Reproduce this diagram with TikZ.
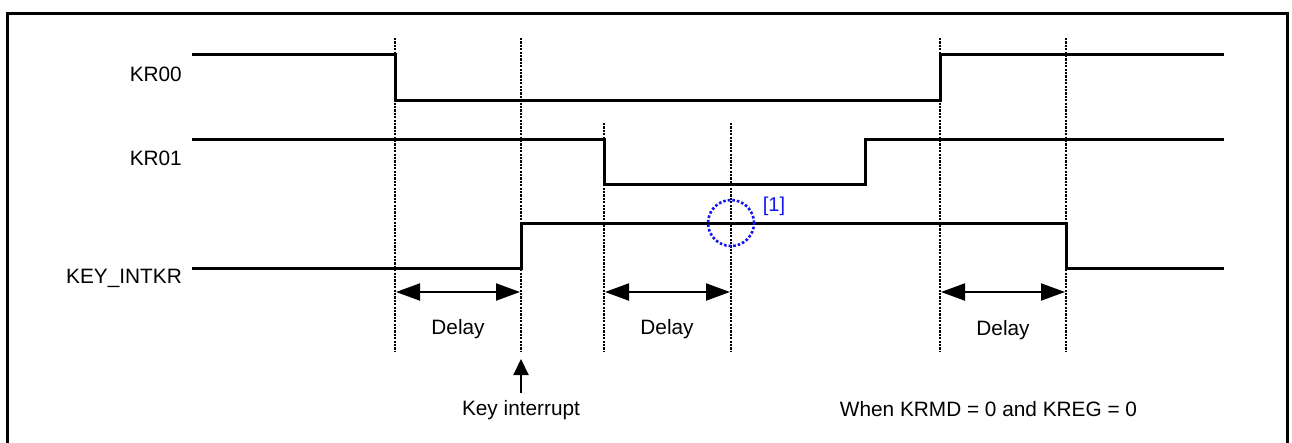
\documentclass[tikz,border=0pt]{standalone}
\usepackage{fontspec}
\setmainfont{Liberation Sans}
\usetikzlibrary{arrows.meta}
\definecolor{markblue}{RGB}{20,20,240}
\begin{document}
\begin{tikzpicture}[x=1pt,y=-1pt,
  lbl/.style={inner sep=0pt,font=\fontsize{20.8}{24}\selectfont},
  wave/.style={line width=3pt,line join=miter},
  guide/.style={line width=2.3pt,dash pattern=on 2.1pt off 1.3pt},
  span/.style={line width=2pt,{Triangle[length=24pt,width=17pt]}-{Triangle[length=24pt,width=17pt]},shorten <=1pt,shorten >=1pt},
  pointer/.style={line width=2pt,-{Triangle[length=16pt,width=15pt]}}]
\useasboundingbox (0,0) rectangle (1292,442);
\clip (0,0) rectangle (1292,442);
% frame
\draw[line width=3pt] (7.5,13.5) rectangle (1287,460);
% guide coordinates
\coordinate (g1t) at (395,38);  \coordinate (g1b) at (395,351);
\coordinate (g2t) at (521,38);  \coordinate (g2b) at (521,351);
\coordinate (g3t) at (604,123); \coordinate (g3b) at (604,352);
\coordinate (g4t) at (731,123); \coordinate (g4b) at (731,352);
\coordinate (g5t) at (940,38);  \coordinate (g5b) at (940,351);
\coordinate (g6t) at (1066,38); \coordinate (g6b) at (1066,351);
\foreach \i in {1,...,6} {\draw[guide] (g\i t) -- (g\i b);}
% waveforms
\draw[wave] (192,54) -- (395,54) -- (395,100) -- (940,100) -- (940,54) -- (1224,54);
\draw[wave] (192,139) -- (604,139) -- (604,184) -- (865,184) -- (865,139) -- (1224,139);
\draw[wave] (192,268) -- (521,268) -- (521,223) -- (1066,223) -- (1066,268) -- (1224,268);
% signal labels
\node[lbl,anchor=base east] (kr00) at (182,81) {KR00};
\node[lbl,anchor=base east] (kr01) at (182,165.5) {KR01};
\node[lbl,anchor=base east] (keyint) at (182,283) {KEY\_INTKR};
% delay spans
\coordinate (d1a) at (395,292); \coordinate (d1b) at (521,292);
\coordinate (d2a) at (604,292); \coordinate (d2b) at (731,292);
\coordinate (d3a) at (940,292); \coordinate (d3b) at (1066,292);
\draw[span] (d1a) -- (d1b);
\draw[span] (d2a) -- (d2b);
\draw[span] (d3a) -- (d3b);
\node[lbl,anchor=base] (delay1) at (458,334.5) {Delay};
\node[lbl,anchor=base] (delay2) at (667,334.5) {Delay};
\node[lbl,anchor=base] (delay3) at (1003,335) {Delay};
% key interrupt
\node[lbl,anchor=base] (keyirq) at (521,415) {Key interrupt};
\coordinate (irqtip) at (521,359);
\draw[pointer] (521,393) -- (irqtip);
% marker [1]
\node[draw=markblue,line width=2.6pt,dash pattern=on 2.6pt off 2pt,circle,minimum size=46pt,inner sep=0pt] (circ) at (731,223) {};
\node[lbl,anchor=base,text=markblue,font=\fontsize{20}{23}\selectfont] (ref1) at (774,211.5) {[1]};
% condition
\node[lbl,anchor=base] (cond) at (988.5,416.5) {When KRMD = 0 and KREG = 0};
\end{tikzpicture}
\end{document}
